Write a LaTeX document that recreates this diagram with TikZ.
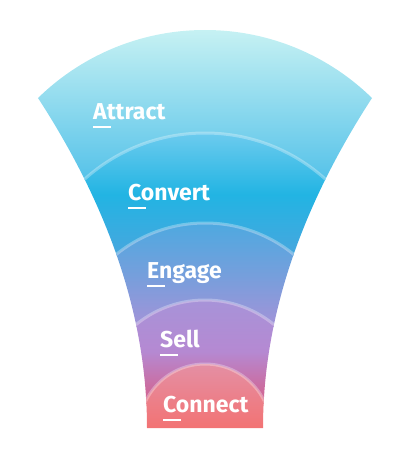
\documentclass[tikz,border=0pt]{standalone}
\usepackage{fontspec}
\setmainfont{Fira Sans}
\usetikzlibrary{positioning}
\definecolor{attractTop}{HTML}{C6F1F3}
\definecolor{attractBot}{HTML}{55C2E9}
\definecolor{convertTop}{HTML}{6CCBEE}
\definecolor{convertMid}{HTML}{22B4E3}
\definecolor{convertBot}{HTML}{48A6DE}
\definecolor{engageTop}{HTML}{4EA9E0}
\definecolor{engageMid}{HTML}{759FDC}
\definecolor{engageBot}{HTML}{A393D8}
\definecolor{sellTop}{HTML}{A793D8}
\definecolor{sellMid}{HTML}{B589D2}
\definecolor{sellBot}{HTML}{D5608A}
\definecolor{connectTop}{HTML}{E48FA4}
\definecolor{connectBot}{HTML}{F37272}

\begin{document}
\begin{tikzpicture}[x=1pt, y=-1pt,
  lbl/.style={anchor=base west, inner sep=0pt, text=white, font=\fontsize{23}{23}\selectfont\bfseries},
  uline/.style={draw=white, line width=2.2pt},
  ring/.style={draw=white, draw opacity=0.3, line width=3pt}]
\useasboundingbox (0,0) rectangle (409,460);
% funnel body, one shaded band per stage
\begin{scope}
  \clip (0,0) -- (0,98) -- (38,98) .. controls (109.5,208) and (147,318) .. (147,428)
        -- (263,428) .. controls (263,318) and (300.5,208) .. (372,98) -- (409,98) -- (409,0) -- cycle;
  \clip (205,269) circle[radius=239pt];
  \shade[top color=attractTop, bottom color=attractBot] (0,30) rectangle (409,180);
  \begin{scope}
    \clip (205,313) circle[radius=180pt];
    \shade[top color=convertTop, bottom color=convertBot, middle color=convertMid] (0,133) rectangle (409,256);
  \end{scope}
  \begin{scope}
    \clip (205,364) circle[radius=141pt];
    \shade[top color=engageTop, bottom color=engageBot, middle color=engageMid] (0,223) rectangle (409,326);
  \end{scope}
  \begin{scope}
    \clip (205,409) circle[radius=109pt];
    \shade[top color=sellTop, bottom color=sellBot, middle color=sellMid] (0,300) rectangle (409,403);
  \end{scope}
  \begin{scope}
    \clip (205,430) circle[radius=66pt];
    \shade[top color=connectTop, bottom color=connectBot] (0,364) rectangle (409,430);
  \end{scope}
  \draw[ring] (205,313) circle[radius=180pt];
  \draw[ring] (205,364) circle[radius=141pt];
  \draw[ring] (205,409) circle[radius=109pt];
  \draw[ring] (205,430) circle[radius=66pt];
\end{scope}
% stage labels
\foreach \name/\txt/\x/\y in {attract/Attract/93/119, convert/Convert/128/200,
    engage/Engage/147/278, sell/Sell/160/347, connect/Connect/163/412} {
  \node[lbl] (\name) at (\x,\y) {\txt};
  \draw[uline] (\name.base west) ++(0,8) -- ++(18,0);
}
\end{tikzpicture}
\end{document}
